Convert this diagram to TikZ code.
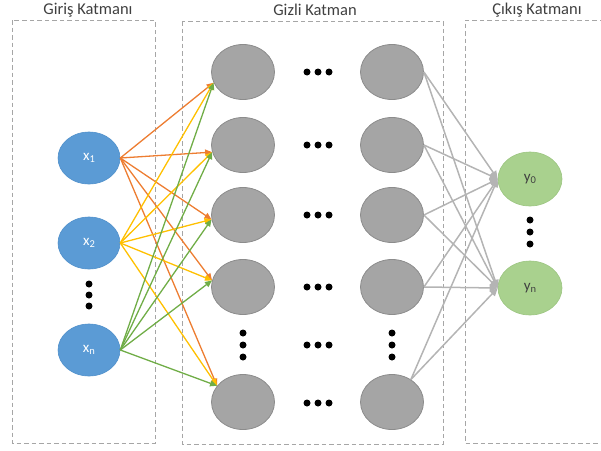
\documentclass[tikz,border=0pt]{standalone}
\usepackage{fontspec}
\setmainfont{Carlito}
\usetikzlibrary{arrows.meta,shapes.geometric}

\definecolor{inblue}{HTML}{5B9BD5}
\definecolor{inblueedge}{HTML}{5090CB}
\definecolor{hidgray}{HTML}{A5A5A5}
\definecolor{hidedge}{HTML}{8C8C8C}
\definecolor{outgreen}{HTML}{A9D18E}
\definecolor{outedge}{HTML}{9CC581}
\definecolor{boxgray}{HTML}{A6A6A6}
\definecolor{titlegray}{HTML}{404040}
\definecolor{arrorange}{HTML}{ED7D31}
\definecolor{arryellow}{HTML}{FFC000}
\definecolor{arrgreen}{HTML}{70AD47}
\definecolor{arrgray}{HTML}{B4B4B4}

\newcommand\nodelbl[2]{#1\raisebox{-0.35ex}{\fontsize{10.5}{10.5}\selectfont #2}}

\begin{document}
\begin{tikzpicture}[x=1pt,y=-1pt,
  layerbox/.style={draw=boxgray, dash pattern=on 4.5pt off 3pt, line width=0.9pt},
  layertitle/.style={text=titlegray, font=\fontsize{16.5}{16.5}\selectfont, inner sep=0pt},
  innode/.style={ellipse, fill=inblue, draw=inblueedge, line width=0.6pt,
    minimum width=62pt, minimum height=52pt, inner sep=0pt, text=white,
    font=\fontsize{15}{15}\selectfont},
  hidnode/.style={ellipse, fill=hidgray, draw=hidedge, line width=0.8pt,
    minimum width=63pt, minimum height=55pt, inner sep=0pt},
  outnode/.style={ellipse, fill=outgreen, draw=outedge, line width=0.6pt,
    minimum width=64pt, minimum height=54pt, inner sep=0pt, text=titlegray,
    font=\fontsize{15}{15}\selectfont},
  inlink/.style={-{Triangle[length=7pt,width=6pt]}, line width=1.3pt},
  outlink/.style={-{Triangle[length=8pt,width=7pt]}, line width=1.5pt, color=arrgray},
]
\useasboundingbox (0,0) rectangle (601,450);

% layer frames
\draw[layerbox] (12,20) rectangle (155,443);
\draw[layerbox] (182,21) rectangle (443,444);
\draw[layerbox] (604,20) -- (465,20) -- (465,443) -- (604,443);

% layer titles
\node[layertitle] (t1) at (88,10) {Giriş Katmanı};
\node[layertitle] (t2) at (315,10) {Gizli Katman};
\node[layertitle] (t3) at (537,10) {Çıkış Katmanı};

% input layer
\node[innode] (x1) at (89,158) {\nodelbl{x}{1}};
\node[innode] (x2) at (89,243) {\nodelbl{x}{2}};
\node[innode] (xn) at (89,350) {\nodelbl{x}{n}};

% hidden layer, first and last columns
\foreach \r/\y in {1/72,2/145,3/215,4/287,5/402}{
  \node[hidnode] (h1\r) at (243,\y) {};
  \node[hidnode] (h2\r) at (392,\y) {};
}

% output layer
\node[outnode] (y0) at (530,179) {\nodelbl{y}{0}};
\node[outnode] (yn) at (530,288) {\nodelbl{y}{n}};

% ellipsis dots
\foreach \y in {284,295,306} \fill (89,\y) circle (3.5);
\foreach \y in {333,345,357}{
  \fill (243,\y) circle (3.5);
  \fill (392,\y) circle (3.5);
}
\foreach \y in {220,232,244} \fill (530,\y) circle (3.5);
\foreach \y in {72,145,215,287,345,403}{
  \foreach \x in {307,318,329} \fill (\x,\y) circle (3.5);
}

% input -> hidden connections
\foreach \s/\c in {x1/arrorange,x2/arryellow,xn/arrgreen}{
  \foreach \r/\a in {1/200,2/193,3/188,4/168,5/148}{
    \draw[inlink, color=\c] (\s.east) -- (h1\r.\a);
  }
}

% hidden -> output connections
\foreach \r in {1,2,3,4}{
  \draw[outlink] (h2\r.east) -- (y0.west);
  \draw[outlink] (h2\r.east) -- (yn.west);
}
\draw[outlink] (h25.50) -- (y0.west);
\draw[outlink] (h25.50) -- (yn.west);
\end{tikzpicture}
\end{document}
